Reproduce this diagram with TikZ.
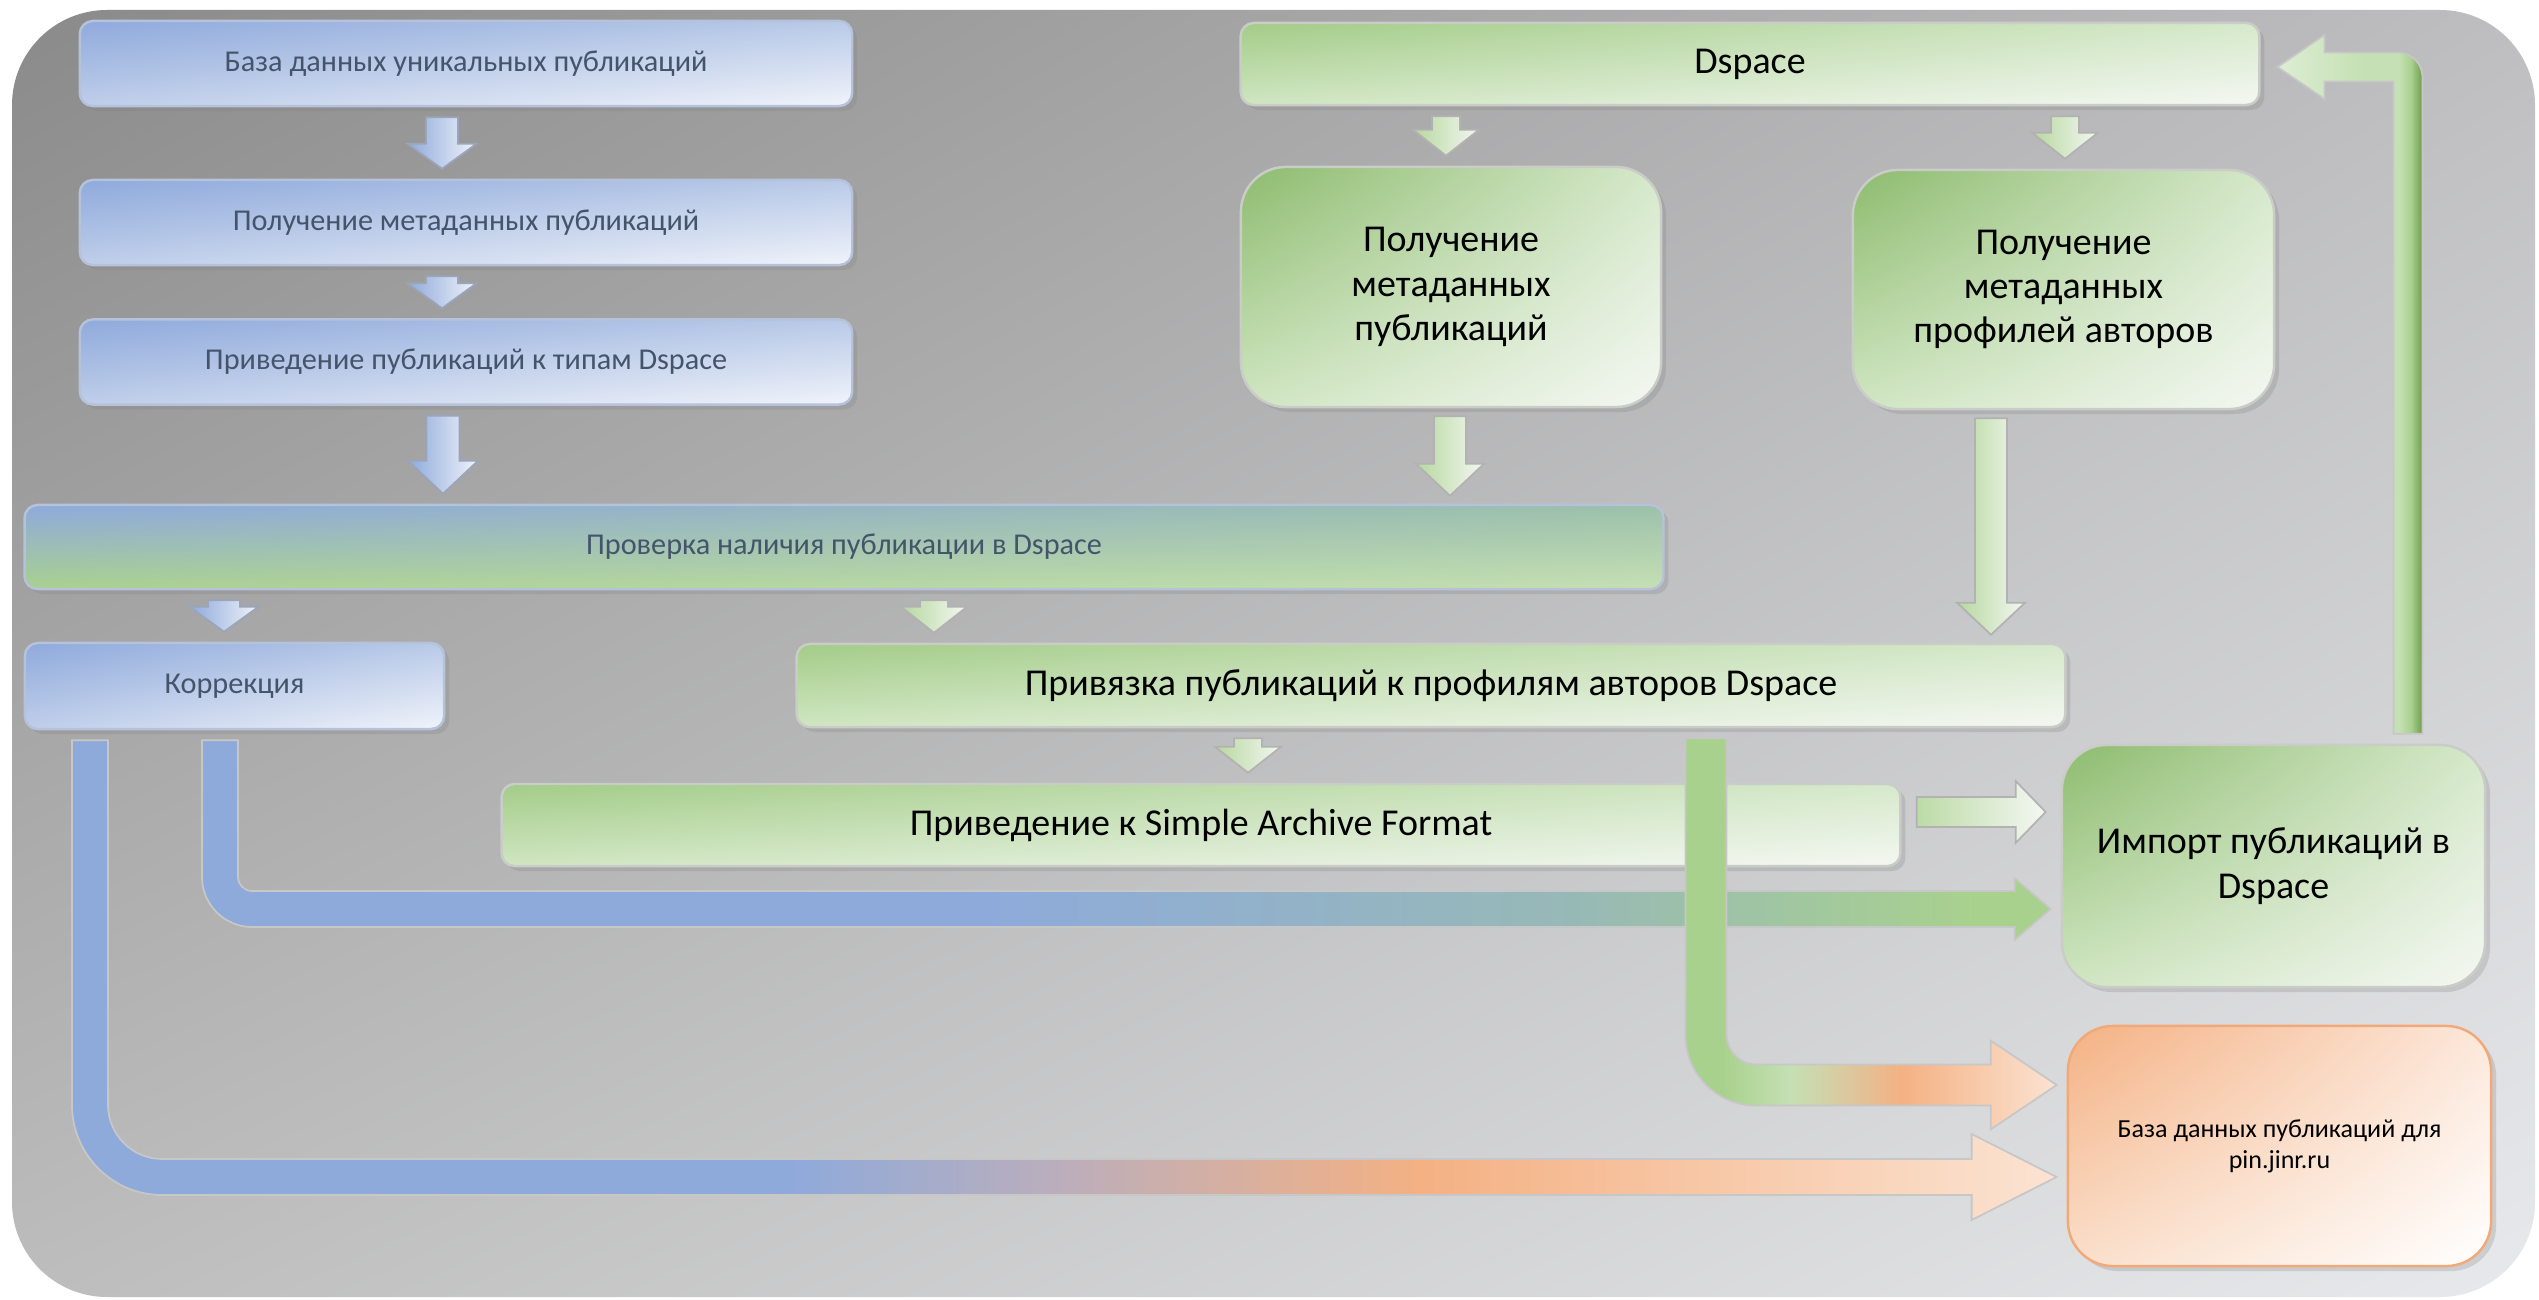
\documentclass[tikz,border=0pt]{standalone}
\usepackage{fontspec}
\setmainfont{Carlito}
\usetikzlibrary{
	calc
	,shadings
	,shadows
}

\definecolor{bgA}{HTML}{8A8A8A}
\definecolor{bgB}{HTML}{BEBEC0}
\definecolor{bgC}{HTML}{BDBDBD}
\definecolor{bgD}{HTML}{E8E9EC}
\definecolor{blA}{HTML}{8FAADC}
\definecolor{blB}{HTML}{B9CAE8}
\definecolor{blC}{HTML}{BFCEEA}
\definecolor{blD}{HTML}{F0F3FA}
\definecolor{blLine}{HTML}{B6C2DA}
\definecolor{blText}{HTML}{44546A}
\definecolor{grA}{HTML}{8DBB6E}
\definecolor{grAw}{HTML}{A3CC88}
\definecolor{grB}{HTML}{D6E9CB}
\definecolor{grC}{HTML}{D0E6C2}
\definecolor{grD}{HTML}{F4F7F2}
\definecolor{grLine}{HTML}{C9CCC7}
\definecolor{orA}{HTML}{F4B183}
\definecolor{orB}{HTML}{FCE8DB}
\definecolor{orC}{HTML}{FADFCB}
\definecolor{orLine}{HTML}{F2A97A}
\definecolor{arBlue}{HTML}{8EAADB}
\definecolor{arMauve}{HTML}{BCAEBB}
\definecolor{arOrange}{HTML}{F4B183}
\definecolor{arPale}{HTML}{FBE3D2}
\definecolor{arGreen}{HTML}{A9D18E}
\definecolor{arLight}{HTML}{C5E0B4}
\definecolor{arMint}{HTML}{DDEDD3}
\definecolor{arDark}{HTML}{6E9C4E}
\definecolor{arTeal}{HTML}{97B9B6}
\definecolor{arTan}{HTML}{DCC79E}

\pgfdeclarehorizontalshading{blueorange}{100bp}{color(0bp)=(arBlue); color(43bp)=(arBlue); color(50bp)=(arMauve); color(59bp)=(arOrange); color(75bp)=(arPale); color(100bp)=(arPale)}
\pgfdeclarehorizontalshading{bluegreen}{100bp}{color(0bp)=(arBlue); color(46bp)=(arBlue); color(62bp)=(arTeal); color(73bp)=(arGreen); color(100bp)=(arGreen)}
\pgfdeclarehorizontalshading{greenorange}{100bp}{color(0bp)=(arGreen); color(30bp)=(arGreen); color(39bp)=(arLight); color(47bp)=(arTan); color(54bp)=(arOrange); color(75bp)=(arPale); color(100bp)=(arPale)}
\pgfdeclarehorizontalshading{greenup}{100bp}{color(0bp)=(arMint); color(25bp)=(arMint); color(55bp)=(arLight); color(67bp)=(arLight); color(71bp)=(arGreen); color(75bp)=(arDark); color(100bp)=(arDark)}

\tikzset{
	fat gap/.store in=\fatgap,
	fat gap=.1cm,
	fat arrow/.style n args={3}{
		to path={
			($(\tikztostart)!\fatgap!(\tikztotarget)$) coordinate (fa-s)
			($(\tikztotarget)!\fatgap!(\tikztostart)$) coordinate (fa-t)
			($(fa-t)!#3!(fa-s)$) coordinate (fa-h)
			($(fa-s)!#1!90:(fa-t)$) -- ($(fa-h)!#1!90:(fa-t)$)
			-- ($(fa-h)!#2!90:(fa-t)$) -- (fa-t)
			-- ($(fa-h)!#2!-90:(fa-t)$) -- ($(fa-h)!#1!-90:(fa-t)$)
			-- ($(fa-s)!#1!-90:(fa-t)$) -- cycle
		}
	},
	% down, then right: half shaft, half head, head length, outer and inner radius
	fat elbow/.style n args={5}{
		to path={
			let \p1=($(\tikztostart)+(0,10)$), \p2=($(\tikztotarget)+(-10,0)$) in
			({\x1-#1},\y1) -- ({\x1-#1},{\y2-#1+#4})
			.. controls ({\x1-#1},{\y2-#1+0.45*#4}) and ({\x1-#1+0.45*#4},{\y2-#1}) .. ({\x1-#1+#4},{\y2-#1})
			-- ({\x2-#3},{\y2-#1}) -- ({\x2-#3},{\y2-#2}) -- (\p2)
			-- ({\x2-#3},{\y2+#2}) -- ({\x2-#3},{\y2+#1})
			-- ({\x1+#1+#5},{\y2+#1})
			.. controls ({\x1+#1+0.45*#5},{\y2+#1}) and ({\x1+#1},{\y2+#1+0.45*#5}) .. ({\x1+#1},{\y2+#1+#5})
			-- ({\x1+#1},\y1) -- cycle
		}
	}
}
\tikzset{
	box/.style={
		shade,
		rounded corners=.13cm,
		align=center,
		inner sep=2pt,
		line width=.7pt,
		drop shadow={shadow xshift=.05cm, shadow yshift=-.05cm, opacity=.25}
	},
	bluebox/.style={
		box, draw=blLine, text=blText,
		upper left=blA, upper right=blB, lower left=blC, lower right=blD,
		minimum height=.85cm,
		font=\fontsize{8.6}{10}\selectfont
	},
	mixbox/.style={
		box, draw=blLine, text=blText,
		upper left=blA, upper right=arTeal!70!arGreen, lower left=arGreen, lower right=arLight,
		font=\fontsize{8.6}{10}\selectfont
	},
	greenbox/.style={
		box, draw=grLine, text=black,
		upper left=grAw, upper right=grB, lower left=grC, lower right=grD,
		font=\fontsize{10.8}{12.6}\selectfont
	},
	tall/.style={
		rounded corners=.45cm,
		upper left=grA
	},
	orangebox/.style={
		box, draw=orLine, text=black, rounded corners=.45cm,
		upper left=orA, upper right=orB, lower left=orC, lower right=white,
		font=\fontsize{7.4}{8.8}\selectfont
	},
	blue arrow/.style={
		draw=blLine!85!black, line width=.5pt,
		left color=arBlue, right color=blD
	},
	green arrow/.style={
		draw=black!30, line width=.5pt,
		left color=arGreen!85!white, right color=grD
	},
	bent/.style={
		draw=black!22, line width=.5pt
	}
}

\begin{document}
\begin{tikzpicture}[x=.01cm, y=-.01cm]
\useasboundingbox (0,0) rectangle (2539,1300);
\fill[white] (0,0) rectangle (2539,1300);
\shade[upper left=bgA, upper right=bgB, lower left=bgC, lower right=bgD, rounded corners=.95cm]
	(12,10) rectangle (2535,1297);

\node[bluebox, minimum width=7.72cm] (b1) at (466,63.5) {База данных уникальных публикаций};
\node[bluebox, minimum width=7.72cm] (b2) at (466,222.5) {Получение метаданных публикаций};
\node[bluebox, minimum width=7.72cm] (b3) at (466,362) {Приведение публикаций к типам Dspace};
\node[mixbox, minimum width=16.38cm, minimum height=.84cm] (prov) at (844,547) {Проверка наличия публикации в Dspace};
\node[bluebox, minimum width=4.19cm, minimum height=.86cm] (korr) at (234.5,686) {Коррекция};

\node[greenbox, minimum width=10.18cm, minimum height=.82cm] (dspace) at (1750,64) {Dspace};
\node[greenbox, tall, minimum width=4.2cm, minimum height=2.4cm] (pub) at (1451,287) {Получение\\метаданных\\публикаций};
\node[greenbox, tall, minimum width=4.21cm, minimum height=2.39cm] (prof) at (2063.5,289.5) {Получение\\метаданных\\профилей авторов};
\node[greenbox, minimum width=12.68cm, minimum height=.83cm] (priv) at (1431,685.5) {Привязка публикаций к профилям авторов Dspace};
\node[greenbox, minimum width=13.98cm, minimum height=.82cm] (saf) at (1201,825) {Приведение к Simple Archive Format};
\node[greenbox, tall, minimum width=4.23cm, minimum height=2.42cm] (imp) at (2273.5,866) {Импорт публикаций в\\Dspace};
\node[orangebox, minimum width=4.23cm, minimum height=2.4cm] (pin) at (2279.5,1146) {База данных публикаций для\\pin.jinr.ru};

\foreach \s/\t/\x in {%
b1/b2/442, b2/b3/442, prov/korr/224%
}{
	\shadedraw[blue arrow, fat arrow={.16cm}{.345cm}{.25cm}] (\x,0 |- \s.south) to (\x,0 |- \t.north);
}
\shadedraw[blue arrow, fat arrow={.165cm}{.35cm}{.33cm}] (443,0 |- b3.south) to (443,0 |- prov.north);

\foreach \s/\t/\x in {%
dspace/pub/1446, dspace/prof/2065, prov/priv/934, priv/saf/1248%
}{
	\shadedraw[green arrow, fat arrow={.14cm}{.33cm}{.26cm}] (\x,0 |- \s.south) to (\x,0 |- \t.north);
}
\foreach \s/\t/\x in {%
pub/prov/1450, prof/priv/1991%
}{
	\shadedraw[green arrow, fat arrow={.16cm}{.34cm}{.32cm}, fat gap=.08cm] (\x,0 |- \s.south) to (\x,0 |- \t.north);
}
\shadedraw[green arrow, fat arrow={.15cm}{.31cm}{.3cm}, fat gap=.15cm] (saf.east |- 0,812) to (imp.west |- 0,812);

\shadedraw[bent, shading=blueorange, fat elbow={.18cm}{.43cm}{.85cm}{.9cm}{.54cm}] (korr.south -| 90,0) to (pin.west |- 0,1177);
\shadedraw[bent, shading=bluegreen, fat elbow={.18cm}{.31cm}{.36cm}{.5cm}{.14cm}] (korr.south -| 220,0) to (imp.west |- 0,909);
\shadedraw[bent, shading=greenorange, fat elbow={.205cm}{.445cm}{.66cm}{.7cm}{.3cm}] (priv.south -| 1706,0) to (pin.west |- 0,1085);

\shadedraw[bent, shading=greenup]
	let \p1=($(imp.north -| 2408,0)+(0,-10)$), \p2=($(dspace.east |- 0,67)+(17,0)$) in
	({\x1+.145cm},\y1) -- ({\x1+.145cm},{\y2+.145cm-.25cm})
	.. controls ({\x1+.145cm},{\y2+.145cm-.11cm}) and ({\x1+.145cm-.11cm},{\y2+.145cm}) .. ({\x1+.145cm-.25cm},{\y2+.145cm})
	-- ({\x2+.47cm},{\y2+.145cm}) -- ({\x2+.47cm},{\y2+.32cm}) -- (\p2)
	-- ({\x2+.47cm},{\y2-.32cm}) -- ({\x2+.47cm},{\y2-.145cm})
	-- ({\x1-.145cm},{\y2-.145cm}) -- ({\x1-.145cm},\y1) -- cycle;
\end{tikzpicture}
\end{document}
